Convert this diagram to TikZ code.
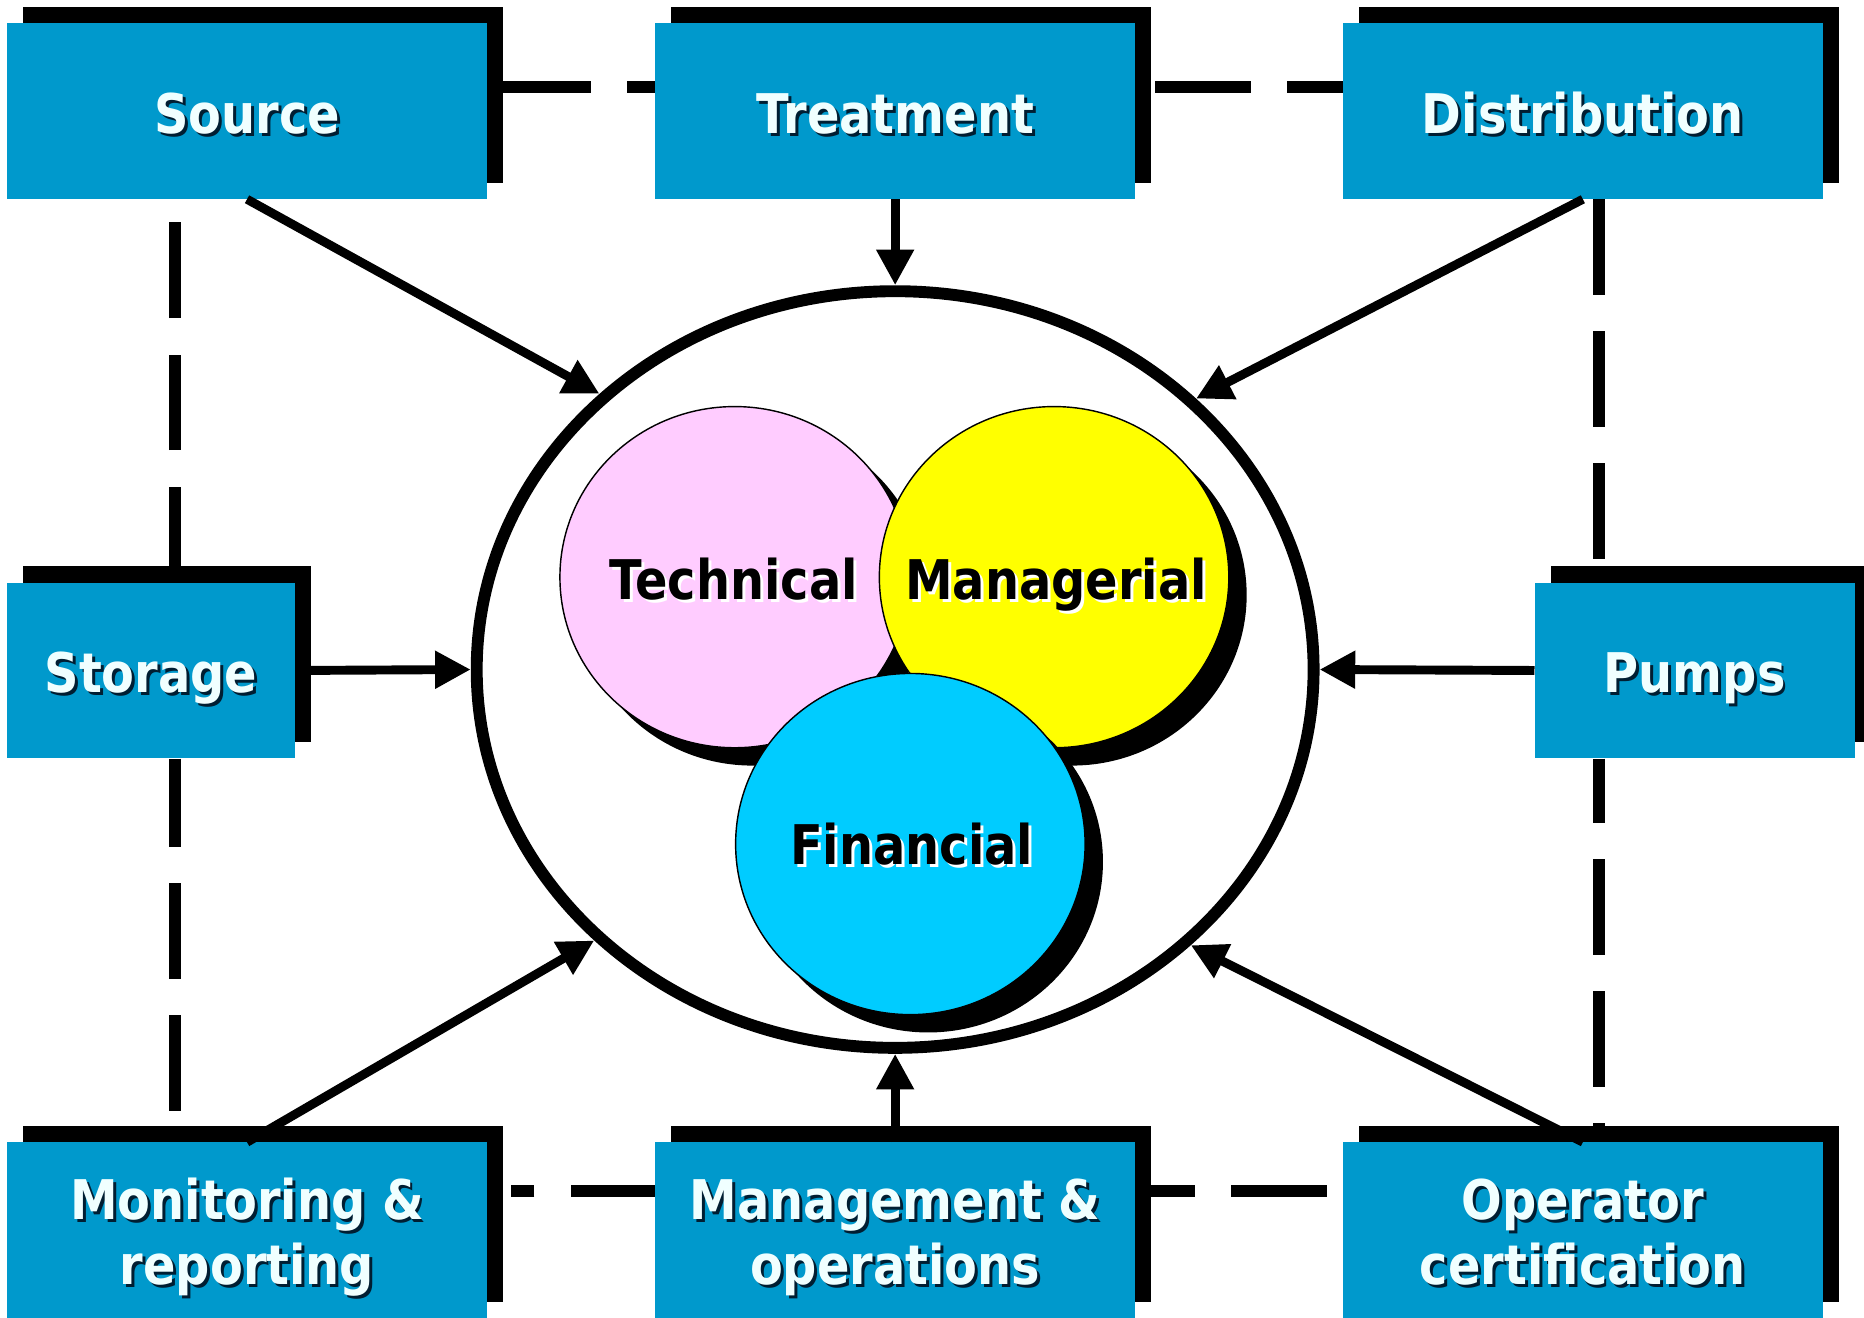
\documentclass[tikz,border=0pt]{standalone}
\usepackage{fontspec}
\newfontfamily\dvb{DejaVu Sans}[FakeStretch=0.875]
\usetikzlibrary{shapes.geometric,shadows,arrows.meta,calc}
\definecolor{boxblue}{RGB}{0,153,204}
\definecolor{txtwhite}{RGB}{240,255,255}
\definecolor{txtshadow}{RGB}{0,30,50}
\definecolor{pinkc}{RGB}{255,204,255}
\definecolor{yellowc}{RGB}{255,255,0}
\definecolor{cyanc}{RGB}{0,204,255}
\newcommand\stxt[4]{%
  \node[#3sh] (#1s) at ([xshift=2.5pt,yshift=-2.5pt]#2) {#4};
  \node[#3] (#1) at (#2) {#4};}
\tikzset{
  bbox/.style={fill=boxblue, minimum height=148pt, inner sep=0pt,
    general shadow={fill=black, shadow xshift=13.5pt, shadow yshift=13.5pt}},
  gbox/.style={minimum height=148pt, inner sep=0pt},
  lblfont/.style={font=\dvb\bfseries\fontsize{46}{54.8}\selectfont, inner sep=0pt, anchor=base, align=center},
  boxlbl/.style={lblfont, text=txtwhite},
  boxlblsh/.style={lblfont, text=txtshadow},
  circlbl/.style={lblfont, text=black},
  circlblsh/.style={lblfont, text=white},
  circ/.style={ellipse, draw=black, line width=1.2pt, minimum width=294pt, minimum height=287pt, inner sep=0pt,
    general shadow={fill=black, shadow xshift=15pt, shadow yshift=-15pt}},
  dline/.style={line width=10pt, dash pattern=on 80.5pt off 30.6pt},
  arr/.style={line width=7.5pt, -{Triangle[length=30pt,width=30pt]}},
}
\begin{document}
\begin{tikzpicture}[x=1pt,y=-1pt]
\fill[white] (0,0) rectangle (1568,1108.7);
\useasboundingbox (0,0) rectangle (1568,1108.7);

\coordinate (srcC) at (207.8,93.4);
\coordinate (treC) at (753,93.4);
\coordinate (disC) at (1331.5,93.4);
\coordinate (stoC) at (127,564);
\coordinate (pumC) at (1425.5,564);
\coordinate (monC) at (207.8,1035);
\coordinate (mgtC) at (753,1035);
\coordinate (opeC) at (1331.5,1035);

% invisible guides for the dashed frame (drawn behind the boxes)
\node[gbox, minimum width=403.5pt] (source0) at (srcC) {};
\node[gbox, minimum width=404pt] (treat0) at (treC) {};
\node[gbox, minimum width=403.5pt] (dist0) at (disC) {};
\node[gbox, minimum width=242pt] (storage0) at (stoC) {};
\node[gbox, minimum width=269pt] (pumps0) at (pumC) {};
\node[gbox, minimum width=403.5pt] (mon0) at (monC) {};
\node[gbox, minimum width=404pt] (mgmt0) at (mgtC) {};
\node[gbox, minimum width=403.5pt] (oper0) at (opeC) {};

\draw[dline, dash phase=104.4pt] ([yshift=20.4pt]source0.east) -- ([yshift=20.4pt]treat0.west);
\draw[dline, dash phase=94.7pt] ([yshift=20.4pt]treat0.east) -- ([yshift=20.4pt]dist0.west);
\draw[dline] ([xshift=20.2pt]storage0.north) -- ([xshift=20.2pt]storage0.north |- source0.south);
\draw[dline, dash phase=6.5pt] ([xshift=20.2pt]storage0.south) -- ([xshift=20.2pt]storage0.south |- mon0.north);
\draw[dline] ([xshift=13.4pt]dist0.south) -- ([xshift=13.4pt]dist0.south |- pumps0.north);
\draw[dline, dash phase=26.5pt] ([xshift=-80.6pt]pumps0.south) -- ([xshift=-80.6pt]pumps0.south |- oper0.north);
\draw[dline, dash phase=9.8pt] ([yshift=33.5pt]mgmt0.west) -- ([xshift=20.3pt,yshift=33.5pt]mon0.east);
\draw[dline, dash phase=30.5pt] ([yshift=33.5pt]mgmt0.east) -- ([yshift=33.5pt]oper0.west);

% boxes
\node[bbox, minimum width=403.5pt] (source) at (srcC) {};
\node[bbox, minimum width=404pt] (treat) at (treC) {};
\node[bbox, minimum width=403.5pt] (dist) at (disC) {};
\node[bbox, minimum width=242pt] (storage) at (stoC) {};
\node[bbox, minimum width=269pt] (pumps) at (pumC) {};
\node[bbox, minimum width=403.5pt] (mon) at (monC) {};
\node[bbox, minimum width=404pt] (mgmt) at (mgtC) {};
\node[bbox, minimum width=403.5pt] (oper) at (opeC) {};

\coordinate (sourceT) at ([yshift=-18.6pt]source.center);
\coordinate (treatT) at ([yshift=-18.6pt]treat.center);
\coordinate (distT) at ([yshift=-18.6pt]dist.center);
\coordinate (storageT) at ([yshift=-18.6pt]storage.center);
\coordinate (pumpsT) at ([yshift=-18.6pt]pumps.center);
\coordinate (monT) at ([yshift=-45.8pt]mon.center);
\coordinate (mgmtT) at ([yshift=-45.8pt]mgmt.center);
\coordinate (operT) at ([yshift=-45.8pt]oper.center);

\stxt{lsource}{sourceT}{boxlbl}{Source}
\stxt{ltreat}{treatT}{boxlbl}{Treatment}
\stxt{ldist}{distT}{boxlbl}{Distribution}
\stxt{lstorage}{storageT}{boxlbl}{Storage}
\stxt{lpumps}{pumpsT}{boxlbl}{Pumps}
\stxt{lmon}{monT}{boxlbl}{Monitoring \&\\reporting}
\stxt{lmgmt}{mgmtT}{boxlbl}{Management \&\\operations}
\stxt{loper}{operT}{boxlbl}{Operator\\certification}

% central ellipse
\node[ellipse, draw=black, line width=10pt, minimum width=704pt, minimum height=636.5pt, inner sep=0pt] (ell) at (753,563.2) {};

% three circles
\node[circ, fill=pinkc] (tech) at (618,485.5) {};
\node[circ, fill=yellowc] (man) at (886.7,485.5) {};
\node[circ, fill=cyanc] (fin) at (765.8,710) {};

\coordinate (techT) at (617,504);
\coordinate (manT) at (888.4,504);
\coordinate (finT) at (766.9,727.5);
\stxt{ltech}{techT}{circlbl}{Technical}
\stxt{lman}{manT}{circlbl}{Managerial}
\stxt{lfin}{finT}{circlbl}{Financial}

% arrows
\draw[arr] (source.south) -- (ell.137.2);
\draw[arr] (treat.south) -- (ell.north);
\draw[arr] (dist.south) -- (ell.42.8);
\draw[arr] (storage.east) -- (ell.west);
\draw[arr] (pumps.west) -- (ell.east);
\draw[arr] (mon.north) -- (ell.222.8);
\draw[arr] (mgmt.north) -- (ell.south);
\draw[arr] (oper.north) -- (ell.317.2);
\end{tikzpicture}
\end{document}
